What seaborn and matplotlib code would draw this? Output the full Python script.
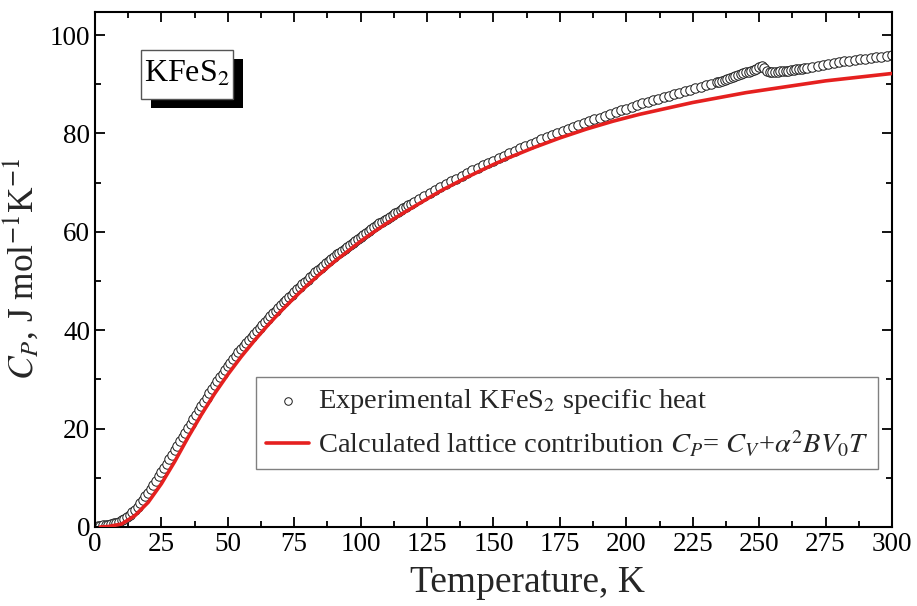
import matplotlib
matplotlib.use("Agg")
import matplotlib.pyplot as plt
import matplotlib.patheffects as pe
from matplotlib.patches import Rectangle
import seaborn as sns
import pandas as pd
from matplotlib.ticker import MultipleLocator

# Experimental specific heat (T in K, Cp in J mol^-1 K^-1)
exp_T = (list(range(1, 121))
         + [122, 124, 126, 128, 130, 132, 134, 136, 138, 140, 142, 144, 146, 148, 150, 152, 154, 156, 158, 160,
            162, 164, 166, 168, 170, 172, 174, 176, 178, 180, 182, 184, 186, 188, 190, 192, 194, 196, 198, 200,
            202, 204, 206, 208, 210, 212, 214, 216, 218, 220, 222, 224, 226, 228, 230, 232, 234]
         + list(range(235, 269))
         + [270, 272, 274, 276, 278, 280, 282, 284, 286, 288, 290, 292, 294, 296, 298, 300])
exp_Cp = [0.3, 0.3, 0.35, 0.4, 0.5, 0.6, 0.75, 0.9, 1.1, 1.4,
          1.7, 2.1, 2.5, 3.0, 3.5, 4.1, 4.8, 5.5, 6.2, 7.0,
          7.8, 8.6, 9.4, 10.3, 11.1, 12.0, 12.9, 13.8, 14.7, 15.6,
          16.5, 17.4, 18.3, 19.2, 20.1, 21.0, 21.9, 22.8, 23.7, 24.6,
          25.5, 26.3, 27.2, 28.0, 28.8, 29.6, 30.4, 31.2, 32.0, 32.7,
          33.4, 34.1, 34.8, 35.5, 36.2, 36.8, 37.5, 38.1, 38.7, 39.3,
          39.9, 40.5, 41.1, 41.7, 42.3, 42.9, 43.5, 44.0, 44.6, 45.1,
          45.7, 46.2, 46.7, 47.2, 47.8, 48.3, 48.8, 49.3, 49.8, 50.3,
          50.8, 51.3, 51.8, 52.2, 52.7, 53.1, 53.6, 54.0, 54.5, 54.9,
          55.4, 55.8, 56.2, 56.6, 57.0, 57.4, 57.8, 58.2, 58.6, 59.0,
          59.4, 59.8, 60.2, 60.6, 61.0, 61.3, 61.7, 62.0, 62.4, 62.7,
          63.1, 63.4, 63.8, 64.1, 64.5, 64.8, 65.1, 65.4, 65.7, 66.0,
          66.7, 67.3, 67.9, 68.5, 69.1, 69.7, 70.3, 70.8, 71.4, 71.9, 72.5, 73.0, 73.5, 74.0, 74.5, 75.0, 75.5, 76.0, 76.5, 77.0,
          77.4, 77.9, 78.3, 78.8, 79.2, 79.6, 80.1, 80.5, 80.9, 81.3, 81.7, 82.1, 82.5, 82.9, 83.2, 83.6, 84.0, 84.3, 84.7, 85.0,
          85.4, 85.7, 86.1, 86.4, 86.8, 87.1, 87.4, 87.7, 88.0, 88.3, 88.6, 88.9, 89.2, 89.5, 89.8, 90.1, 90.4,
          90.5, 90.7, 90.8, 91.0, 91.2, 91.4, 91.6, 91.8, 92.0, 92.2, 92.4, 92.6, 92.8, 93.0, 93.2, 93.5, 93.8, 93.4,
          92.8, 92.6, 92.6, 92.6, 92.6, 92.7, 92.7, 92.8, 92.8, 92.9, 93.0, 93.1, 93.1, 93.2, 93.3, 93.4,
          93.6, 93.8, 94.0, 94.2, 94.4, 94.6, 94.7, 94.8, 95.0, 95.1, 95.2, 95.4, 95.5, 95.6, 95.8, 96.0]

# Calculated lattice contribution
calc_T = [2, 5, 10, 15, 20, 25, 30, 35, 40, 45, 50, 55, 60, 65, 70, 75, 80, 85, 90, 95,
          100, 105, 110, 115, 120, 125, 130, 135, 140, 145, 150, 155, 160, 165, 170, 175, 180, 185, 190, 195,
          200, 205, 210, 215, 220, 225, 230, 235, 240, 245, 250, 255, 260, 265, 270, 275, 280, 285, 290, 295, 300]
calc_Cp = [0.0, 0.1, 0.6, 2.3, 5.0, 8.8, 13.3, 18.2, 22.8, 27.1, 31.0, 34.6, 37.9, 41.0, 43.9, 46.6, 49.2, 51.6, 53.9, 56.0,
           58.1, 60.0, 61.8, 63.5, 65.1, 66.7, 68.3, 69.7, 71.1, 72.4, 73.7, 74.9, 76.0, 77.1, 78.1, 79.1, 80.0, 80.9, 81.7, 82.5,
           83.2, 83.9, 84.5, 85.1, 85.7, 86.3, 86.8, 87.3, 87.8, 88.3, 88.7, 89.1, 89.5, 89.9, 90.3, 90.7, 91.0, 91.3, 91.6, 91.9, 92.2]

x_ticks = [0, 25, 50, 75, 100, 125, 150, 175, 200, 225, 250, 275, 300]
y_ticks = [0, 20, 40, 60, 80, 100]

label_exp = "Experimental KFeS$_2$ specific heat"
label_calc = "Calculated lattice contribution $C_P$= $C_V$+$\\alpha^2BV_0T$"

sns.set_theme(style="ticks")
plt.rcParams['font.family'] = ['Liberation Serif', 'DejaVu Serif']
plt.rcParams['mathtext.fontset'] = 'stix'

df_exp = pd.DataFrame({"T": exp_T, "Cp": exp_Cp})
df_calc = pd.DataFrame({"T": calc_T, "Cp": calc_Cp})

fig = plt.figure(figsize=(9.17, 6.06), dpi=100)
ax = fig.add_axes([0.1036, 0.1304, 0.8691, 0.8498])

sns.scatterplot(data=df_exp, x="T", y="Cp", ax=ax, marker='o', s=46, color='white',
                edgecolor='#1a1a1a', linewidth=0.7, label=label_exp, zorder=2)
sns.lineplot(data=df_calc, x="T", y="Cp", ax=ax, color='#e5201f', linewidth=2.6,
             label=label_calc, zorder=3)

ax.set_xlim(0, 300)
ax.set_ylim(0, 104.7)
ax.set_xticks(x_ticks)
ax.set_yticks(y_ticks)
ax.xaxis.set_minor_locator(MultipleLocator(12.5))
ax.yaxis.set_minor_locator(MultipleLocator(10))
ax.tick_params(which='both', direction='in', top=True, right=True, width=1.3, labelsize=19.5, colors='black')
ax.tick_params(which='major', length=7)
ax.tick_params(which='minor', length=4)
for sp in ax.spines.values():
    sp.set_linewidth(1.5)
    sp.set_color('black')
    sp.set_visible(True)

ax.set_xlabel("Temperature, K", fontsize=27, labelpad=2)
ax.xaxis.set_label_coords(0.542, -0.075)
ax.set_ylabel("$C_P$, J mol$^{-1}$K$^{-1}$", fontsize=25.5, labelpad=6)

leg = ax.legend(loc='lower right', bbox_to_anchor=(0.983, 0.112), fontsize=20.5,
                frameon=True, fancybox=False, framealpha=1, edgecolor='#808080',
                handlelength=1.5, handletextpad=0.3, labelspacing=0.45, borderpad=0.35,
                borderaxespad=0.0, markerscale=0.8)
leg.get_frame().set_linewidth(1.0)

# KFeS2 label: white box with a black drop shadow
box = Rectangle((0.0577, 0.831), 0.1154, 0.095, transform=ax.transAxes,
                facecolor='white', edgecolor='#555555', lw=1.0, zorder=5)
box.set_path_effects([pe.SimplePatchShadow(offset=(7, -6.5), shadow_rgbFace='black', alpha=1.0),
                      pe.Normal()])
ax.add_patch(box)
ax.text(0.1154, 0.8785, "KFeS$_2$", transform=ax.transAxes, ha='center', va='center',
        fontsize=23, color='black', zorder=6)

fig.savefig("out.png", dpi=100)
